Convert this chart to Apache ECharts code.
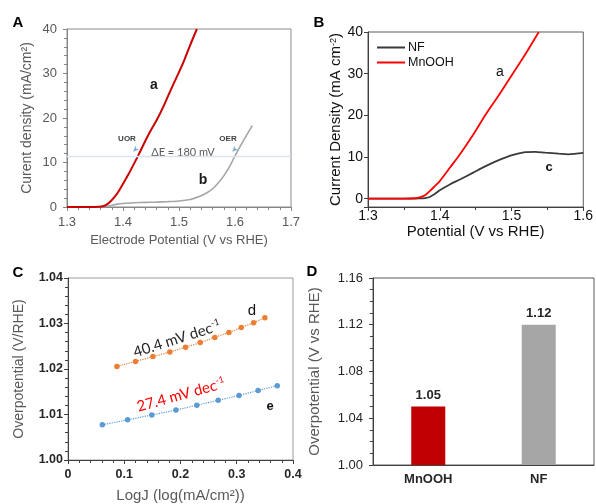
<!DOCTYPE html>
<html>
<head>
<meta charset="utf-8">
<script src="https://cdn.jsdelivr.net/npm/echarts@6/dist/echarts.min.js"></script>
<style>
  html, body { margin: 0; padding: 0; background: #ffffff; }
  #chart { width: 596px; height: 504px; }
</style>
</head>
<body>
<div id="chart"></div>
<script>
// ---- Panel A: polarization curves, urea oxidation (a) vs oxygen evolution (b)
const uorCurve = [
  [1.30, 0], [1.35, 0], [1.362, 0.1], [1.37, 0.5], [1.377, 1.2], [1.385, 2.3],
  [1.392, 3.5], [1.40, 5.2], [1.41, 7.4], [1.42, 9.8], [1.43, 12.3], [1.44, 14.9],
  [1.45, 17.3], [1.46, 19.5], [1.47, 22.0], [1.48, 24.8], [1.49, 27.6], [1.50, 30.3],
  [1.51, 33.2], [1.52, 36.4], [1.532, 40]
];
const oerCurve = [
  [1.30, 0], [1.36, 0], [1.37, 0.1], [1.38, 0.4], [1.39, 0.65], [1.40, 0.8],
  [1.42, 0.95], [1.44, 1.05], [1.46, 1.1], [1.48, 1.2], [1.50, 1.35], [1.52, 1.7],
  [1.535, 2.3], [1.55, 3.2], [1.56, 4.1], [1.57, 5.4], [1.58, 7.0], [1.59, 9.0],
  [1.60, 11.5], [1.61, 13.8], [1.62, 16.0], [1.631, 18.3]
];
const deltaELevel = 11.3;
const deltaEArrows = [[1.418, 12.4], [1.595, 12.4]];

// ---- Panel B: NF vs MnOOH
const nfCurve = [
  [1.30, 0], [1.36, 0], [1.372, 0.05], [1.38, 0.15], [1.386, 0.4], [1.393, 1.1],
  [1.40, 2.0], [1.414, 3.4], [1.428, 4.6], [1.446, 6.2], [1.464, 7.8], [1.483, 9.3],
  [1.501, 10.45], [1.519, 11.15], [1.533, 11.25], [1.547, 11.05], [1.566, 10.8],
  [1.579, 10.65], [1.59, 10.8], [1.60, 11.0]
];
const mnoohCurve = [
  [1.30, 0], [1.35, 0], [1.365, 0.1], [1.372, 0.3], [1.38, 0.9], [1.386, 1.8],
  [1.393, 3.0], [1.40, 4.2], [1.414, 7.4], [1.428, 10.6], [1.446, 15.2],
  [1.464, 20.2], [1.483, 25.0], [1.501, 29.8], [1.519, 34.6], [1.538, 40]
];

// ---- Panel C: Tafel plots
const tafelD = [
  [0.087, 1.02057], [0.120, 1.02165], [0.151, 1.02272], [0.181, 1.02373],
  [0.209, 1.02480], [0.235, 1.02580], [0.261, 1.02695], [0.286, 1.02803],
  [0.308, 1.02910], [0.330, 1.03018], [0.350, 1.03125]
];
const tafelE = [
  [0.061, 1.00774], [0.106, 1.00882], [0.149, 1.00989], [0.192, 1.01097],
  [0.229, 1.01204], [0.267, 1.01312], [0.304, 1.01419], [0.338, 1.01527],
  [0.372, 1.01634]
];

// ---- Panel D: onset overpotential
const barCategories = ['MnOOH', 'NF'];
const barValues = [1.05, 1.12];

const barColors = ['#c00000', '#a6a6a6'];
const SANS = '"Liberation Sans", Arial, sans-serif';
const LATO = 'Lato, "Open Sans", sans-serif';

function valueAxis(o) {
  return {
    type: 'value',
    gridIndex: o.grid,
    min: o.min, max: o.max, interval: o.interval,
    name: o.name, nameLocation: 'middle', nameGap: o.nameGap,
    nameTextStyle: Object.assign({ fontFamily: SANS, fontSize: o.nameSize || 13, color: o.nameColor || '#595959' }, o.nameExtra || {}),
    axisLine: { show: true, onZero: false, lineStyle: { color: o.lineColor, width: 1 } },
    axisTick: { show: true, length: 4, lineStyle: { color: o.lineColor } },
    minorTick: { show: !!o.minor, splitNumber: o.minor || 5, length: 3, lineStyle: { color: o.lineColor } },
    splitLine: { show: false },
    axisLabel: {
      margin: o.margin, fontFamily: SANS, fontSize: o.labelSize || 13,
      color: o.labelColor || '#595959', fontWeight: o.bold ? 'bold' : 'normal',
      formatter: o.fmt,
      showMinLabel: true, showMaxLabel: true
    }
  };
}

// smooth curve style shared by the polarization plots
function curve(name, xi, data, color, width) {
  return {
    type: 'line', name: name, xAxisIndex: xi, yAxisIndex: xi, data: data,
    smooth: 0.3, symbol: 'none', showSymbol: false,
    lineStyle: { color: color, width: width }, itemStyle: { color: color }
  };
}

const chart = echarts.init(document.getElementById('chart'), null, { renderer: 'canvas' });

const oerSeries = curve('OER', 0, oerCurve, '#a6a6a6', 1.6);
oerSeries.markLine = {
  silent: true, symbol: 'none', label: { show: false },
  lineStyle: { color: '#d9e4f1', width: 1.4, type: 'solid' },
  data: [{ yAxis: deltaELevel }]
};

const option = {
  animation: false,
  backgroundColor: '#ffffff',
  grid: [
    { left: 67, top: 29, width: 224, height: 178, show: true, borderColor: '#8c8c8c', borderWidth: 1 },
    { left: 368, top: 32, width: 218, height: 175, show: true, borderColor: '#5a5a5a', borderWidth: 1 },
    { left: 68, top: 278, width: 225, height: 186, show: true, borderColor: '#9a9a9a', borderWidth: 1 },
    { left: 373, top: 278, width: 221, height: 187, show: true, borderColor: '#5a5a5a', borderWidth: 1 }
  ],
  legend: {
    data: [{ name: 'NF', icon: 'rect' }, { name: 'MnOOH', icon: 'rect' }],
    orient: 'vertical',
    left: 372, top: 36,
    itemWidth: 28, itemHeight: 2, itemGap: 2,
    textStyle: { fontFamily: SANS, fontSize: 12.5, color: '#111111', padding: [0, 0, 0, -2] }
  },
  xAxis: [
    valueAxis({ grid: 0, min: 1.3, max: 1.7, interval: 0.1, minor: 5, lineColor: '#868686',
      name: 'Electrode Potential (V vs RHE)', nameGap: 27, nameSize: 13,
      margin: 9, labelSize: 13, fmt: v => v.toFixed(1) }),
    valueAxis({ grid: 1, min: 1.3, max: 1.6, interval: 0.1, minor: 2, lineColor: '#404040',
      name: 'Potential (V vs RHE)', nameGap: 15, nameSize: 15, nameColor: '#111111',
      margin: 2, labelSize: 14, labelColor: '#111111', fmt: v => v.toFixed(1) }),
    valueAxis({ grid: 2, min: 0, max: 0.4, interval: 0.1, minor: 5, lineColor: '#404040',
      name: 'LogJ (log(mA/cm²))', nameGap: 28, nameSize: 15,
      margin: 8, labelSize: 12.5, labelColor: '#262626', bold: true,
      fmt: v => (v === 0 ? '0' : v.toFixed(1)) }),
    {
      type: 'category', gridIndex: 3, data: barCategories,
      axisLine: { lineStyle: { color: '#404040' } },
      axisTick: { show: false },
      axisLabel: { margin: 8, fontFamily: SANS, fontSize: 13, fontWeight: 'bold', color: '#262626' }
    }
  ],
  yAxis: [
    valueAxis({ grid: 0, min: 0, max: 40, interval: 10, minor: 5, lineColor: '#868686',
      name: 'Curent density (mA/cm²)', nameGap: 33, nameSize: 14,
      margin: 10, labelSize: 13, fmt: v => String(v) }),
    valueAxis({ grid: 1, min: -2, max: 40, lineColor: '#404040',
      name: '{t|Current Density (mA cm}{s|-2}{t|)}', nameGap: 23, nameSize: 15, nameColor: '#111111',
      nameExtra: { rich: {
        t: { fontFamily: SANS, fontSize: 15, color: '#111111' },
        s: { fontFamily: SANS, fontSize: 9, color: '#111111', verticalAlign: 'top', padding: [0, 0, 6, 0] }
      } },
      margin: 5, labelSize: 14, labelColor: '#111111', fmt: v => (v < 0 ? '' : String(v)) }),
    valueAxis({ grid: 2, min: 1.0, max: 1.04, interval: 0.01, minor: 5, lineColor: '#404040',
      name: 'Overpotential (V/RHE)', nameGap: 42, nameSize: 14,
      margin: 5, labelSize: 12.5, labelColor: '#262626', bold: true, fmt: v => v.toFixed(2) }),
    valueAxis({ grid: 3, min: 1.0, max: 1.16, interval: 0.04, minor: 4, lineColor: '#404040',
      name: 'Overpotential (V vs RHE)', nameGap: 51, nameSize: 15,
      margin: 10, labelSize: 13, labelColor: '#262626', fmt: v => v.toFixed(2) })
  ],
  series: [
    // Panel A
    oerSeries,
    curve('UOR', 0, uorCurve, '#cc0000', 2),
    {
      type: 'scatter', name: 'arrows', xAxisIndex: 0, yAxisIndex: 0, data: deltaEArrows,
      symbol: 'arrow', symbolSize: [4, 6], symbolRotate: 135, itemStyle: { color: '#5b9bd5' }, silent: true
    },
    // Panel B
    curve('NF', 1, nfCurve, '#3a3a3a', 1.8),
    curve('MnOOH', 1, mnoohCurve, '#ff0000', 1.8),
    // Panel C
    {
      type: 'line', name: 'd', xAxisIndex: 2, yAxisIndex: 2, data: tafelD,
      symbol: 'circle', symbolSize: 5.5, lineStyle: { color: '#ed7d31', width: 1.2, type: 'dotted' },
      itemStyle: { color: '#ed7d31' }
    },
    {
      type: 'line', name: 'e', xAxisIndex: 2, yAxisIndex: 2, data: tafelE,
      symbol: 'circle', symbolSize: 5.5, lineStyle: { color: '#5b9bd5', width: 1.2, type: 'dotted' },
      itemStyle: { color: '#5b9bd5' }
    },
    // Panel D
    {
      type: 'bar', name: 'onset', xAxisIndex: 3, yAxisIndex: 3, barWidth: 34,
      data: barValues.map((v, i) => ({ value: v, itemStyle: { color: barColors[i] } })),
      label: {
        show: true, position: 'top', distance: 5,
        fontFamily: SANS, fontSize: 13, fontWeight: 'bold', color: '#262626',
        formatter: p => Number(p.value).toFixed(2)
      }
    }
  ],
  graphic: [
    // panel letters
    { type: 'text', x: 18, y: 23, style: { text: 'A', font: 'bold 15px ' + SANS, fill: '#000', align: 'center', verticalAlign: 'middle' } },
    { type: 'text', x: 319, y: 23, style: { text: 'B', font: 'bold 15px ' + SANS, fill: '#000', align: 'center', verticalAlign: 'middle' } },
    { type: 'text', x: 18, y: 273, style: { text: 'C', font: 'bold 15px ' + SANS, fill: '#000', align: 'center', verticalAlign: 'middle' } },
    { type: 'text', x: 312, y: 272, style: { text: 'D', font: 'bold 15px ' + SANS, fill: '#000', align: 'center', verticalAlign: 'middle' } },
    // panel A annotations
    { type: 'text', x: 154, y: 85, style: { text: 'a', font: 'bold 14px ' + SANS, fill: '#1a1a1a', align: 'center', verticalAlign: 'middle' } },
    { type: 'text', x: 203, y: 180, style: { text: 'b', font: 'bold 14px ' + SANS, fill: '#1a1a1a', align: 'center', verticalAlign: 'middle' } },
    { type: 'text', x: 127, y: 139, style: { text: 'UOR', font: 'bold 8px ' + SANS, fill: '#404040', align: 'center', verticalAlign: 'middle' } },
    { type: 'text', x: 228, y: 139, style: { text: 'OER', font: 'bold 8px ' + SANS, fill: '#404040', align: 'center', verticalAlign: 'middle' } },
    { type: 'text', x: 183, y: 152, style: { text: 'ΔE = 180 mV', font: '11px ' + LATO, fill: '#595959', align: 'center', verticalAlign: 'middle' } },
    // panel B annotations
    { type: 'text', x: 500, y: 72, style: { text: 'a', font: '14px ' + SANS, fill: '#111', align: 'center', verticalAlign: 'middle' } },
    { type: 'text', x: 549, y: 167, style: { text: 'c', font: 'bold 13px ' + SANS, fill: '#111', align: 'center', verticalAlign: 'middle' } },
    // panel C annotations
    { type: 'text', x: 252, y: 311, style: { text: 'd', font: '15px ' + SANS, fill: '#111', align: 'center', verticalAlign: 'middle' } },
    { type: 'text', x: 270, y: 406, style: { text: 'e', font: 'bold 13px ' + SANS, fill: '#111', align: 'center', verticalAlign: 'middle' } },
    {
      type: 'text', x: 177, y: 339, rotation: 0.31,
      style: {
        text: '{t|40.4 mV dec}{s|-1}', align: 'center', verticalAlign: 'middle',
        rich: {
          t: { fontFamily: LATO, fontSize: 15, fill: '#262626', color: '#262626' },
          s: { fontFamily: LATO, fontSize: 9, fill: '#262626', color: '#262626', verticalAlign: 'top', padding: [0, 0, 8, 0] }
        }
      }
    },
    {
      type: 'text', x: 181, y: 395, rotation: 0.27,
      style: {
        text: '{t|27.4 mV dec}{s|-1}', align: 'center', verticalAlign: 'middle',
        rich: {
          t: { fontFamily: LATO, fontSize: 15, fill: '#ff0000', color: '#ff0000' },
          s: { fontFamily: LATO, fontSize: 9, fill: '#ff0000', color: '#ff0000', verticalAlign: 'top', padding: [0, 0, 8, 0] }
        }
      }
    }
  ]
};

chart.setOption(option);
</script>
</body>
</html>
